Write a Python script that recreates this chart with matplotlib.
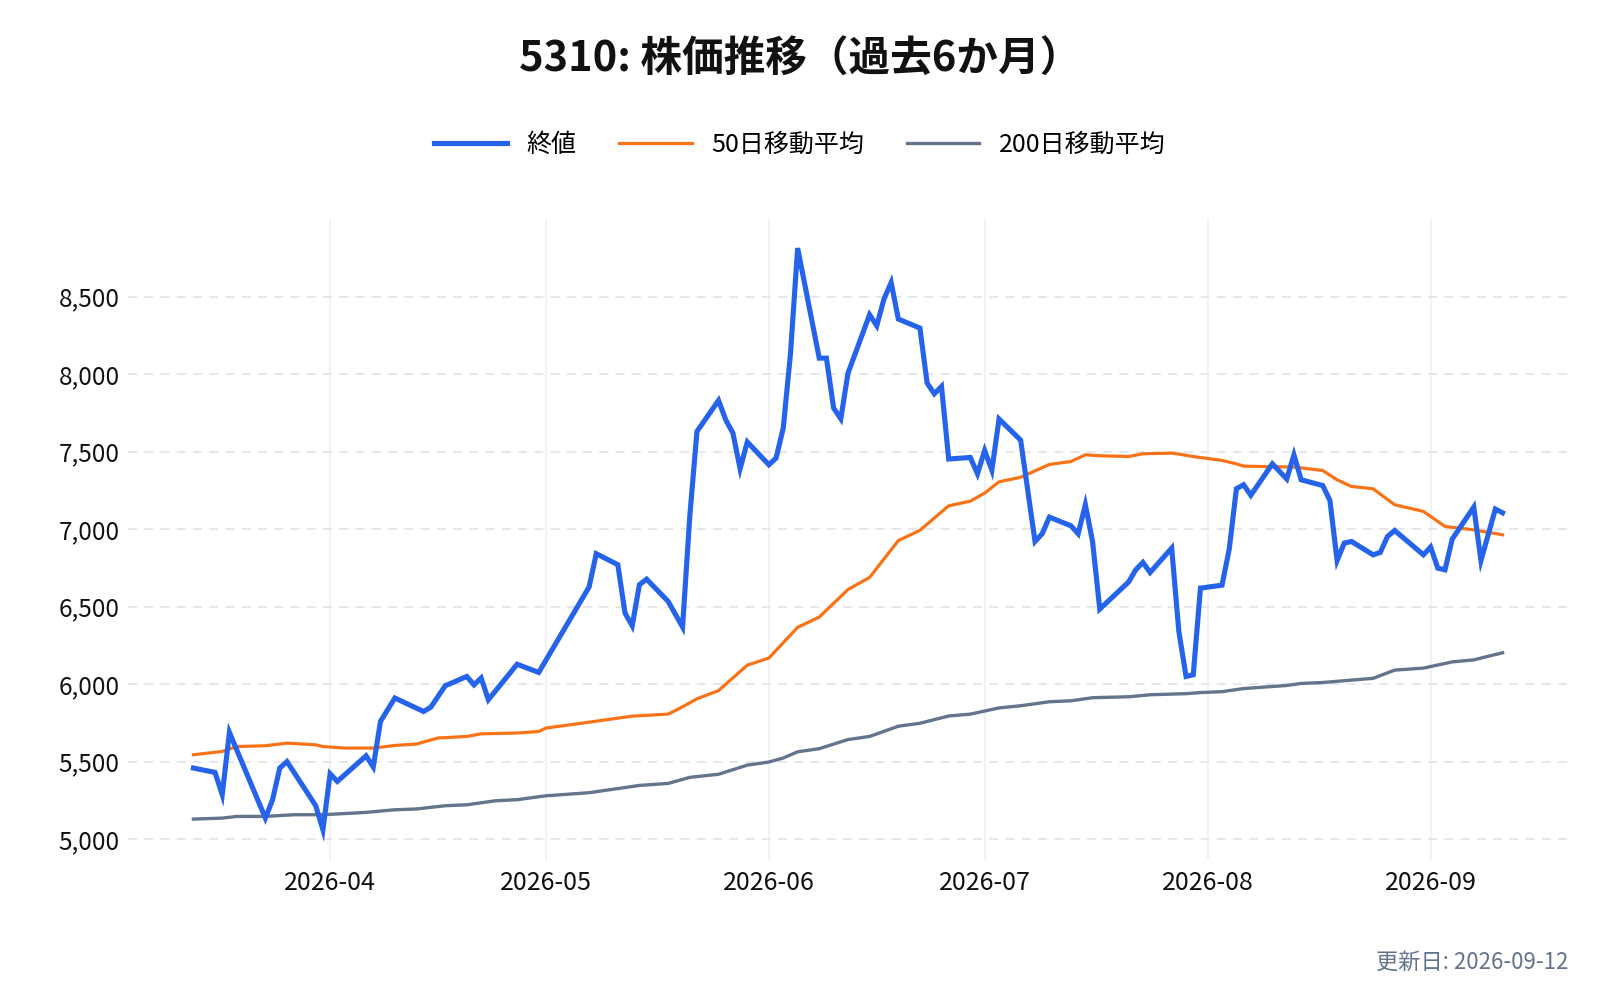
import matplotlib
matplotlib.use("Agg")
import matplotlib.pyplot as plt
import matplotlib.dates as mdates
from matplotlib.ticker import FuncFormatter, FixedLocator
import pandas as pd

plt.rcParams['font.family'] = ['Noto Sans CJK JP', 'DejaVu Sans']

# ---- data ----
close_dates = ["2026-03-13", "2026-03-16", "2026-03-17", "2026-03-18", "2026-03-23", "2026-03-24",
               "2026-03-25", "2026-03-26", "2026-03-30", "2026-03-31", "2026-04-01", "2026-04-02",
               "2026-04-06", "2026-04-07", "2026-04-08", "2026-04-10", "2026-04-14", "2026-04-15",
               "2026-04-17", "2026-04-20", "2026-04-21", "2026-04-22", "2026-04-23", "2026-04-27",
               "2026-04-30", "2026-05-07", "2026-05-08", "2026-05-11", "2026-05-12", "2026-05-13",
               "2026-05-14", "2026-05-15", "2026-05-18", "2026-05-20", "2026-05-21", "2026-05-22",
               "2026-05-25", "2026-05-26", "2026-05-27", "2026-05-28", "2026-05-29", "2026-06-01",
               "2026-06-02", "2026-06-03", "2026-06-04", "2026-06-05", "2026-06-08", "2026-06-09",
               "2026-06-10", "2026-06-11", "2026-06-12", "2026-06-15", "2026-06-16", "2026-06-17",
               "2026-06-18", "2026-06-19", "2026-06-22", "2026-06-23", "2026-06-24", "2026-06-25",
               "2026-06-26", "2026-06-29", "2026-06-30", "2026-07-01", "2026-07-02", "2026-07-03",
               "2026-07-06", "2026-07-08", "2026-07-09", "2026-07-10", "2026-07-13", "2026-07-14",
               "2026-07-15", "2026-07-16", "2026-07-17", "2026-07-21", "2026-07-22", "2026-07-23",
               "2026-07-24", "2026-07-27", "2026-07-28", "2026-07-29", "2026-07-30", "2026-07-31",
               "2026-08-03", "2026-08-04", "2026-08-05", "2026-08-06", "2026-08-07", "2026-08-10",
               "2026-08-12", "2026-08-13", "2026-08-14", "2026-08-17", "2026-08-18", "2026-08-19",
               "2026-08-20", "2026-08-21", "2026-08-24", "2026-08-25", "2026-08-26", "2026-08-27",
               "2026-08-31", "2026-09-01", "2026-09-02", "2026-09-03", "2026-09-04", "2026-09-07",
               "2026-09-08", "2026-09-10", "2026-09-11"]
close_values = [5458, 5430, 5286, 5688, 5135, 5254,
                5458, 5500, 5215, 5060, 5421, 5372,
                5537, 5465, 5759, 5910, 5823, 5851,
                5989, 6049, 5995, 6039, 5899, 6128,
                6075, 6626, 6841, 6770, 6458, 6376,
                6641, 6677, 6533, 6368, 7080, 7630,
                7830, 7705, 7619, 7390, 7562, 7415,
                7458, 7652, 8130, 8813, 8103, 8103,
                7781, 7712, 8006, 8383, 8312, 8484,
                8591, 8355, 8297, 7942, 7873, 7920,
                7452, 7462, 7357, 7507, 7380, 7710,
                7574, 6920, 6970, 7077, 7021, 6970,
                7157, 6920, 6484, 6658, 6737, 6785,
                6720, 6877, 6339, 6049, 6060, 6619,
                6638, 6870, 7260, 7286, 7218, 7421,
                7323, 7479, 7318, 7281, 7185, 6797,
                6910, 6920, 6834, 6849, 6952, 6991,
                6834, 6884, 6748, 6737, 6935, 7142,
                6797, 7129, 7105]

ma50_dates = ["2026-03-13", "2026-03-17", "2026-03-19", "2026-03-23", "2026-03-26", "2026-03-30",
              "2026-03-31", "2026-04-03", "2026-04-07", "2026-04-10", "2026-04-13", "2026-04-16",
              "2026-04-20", "2026-04-22", "2026-04-27", "2026-04-30", "2026-05-01", "2026-05-07",
              "2026-05-13", "2026-05-18", "2026-05-20", "2026-05-22", "2026-05-25", "2026-05-29",
              "2026-06-01", "2026-06-03", "2026-06-05", "2026-06-08", "2026-06-12", "2026-06-15",
              "2026-06-19", "2026-06-22", "2026-06-26", "2026-06-29", "2026-07-01", "2026-07-03",
              "2026-07-06", "2026-07-10", "2026-07-13", "2026-07-15", "2026-07-17", "2026-07-21",
              "2026-07-23", "2026-07-27", "2026-07-28", "2026-07-30", "2026-08-03", "2026-08-05",
              "2026-08-06", "2026-08-13", "2026-08-17", "2026-08-19", "2026-08-21", "2026-08-24",
              "2026-08-27", "2026-08-31", "2026-09-03", "2026-09-07", "2026-09-11"]
ma50_values = [5544, 5565, 5597, 5602, 5619, 5608,
               5597, 5587, 5587, 5604, 5613, 5652,
               5662, 5679, 5684, 5694, 5716, 5754,
               5793, 5806, 5853, 5905, 5958, 6122,
               6168, 6267, 6366, 6432, 6610, 6688,
               6926, 6992, 7150, 7180, 7232, 7305,
               7334, 7417, 7436, 7479, 7473, 7468,
               7486, 7490, 7484, 7468, 7443, 7421,
               7406, 7400, 7378, 7318, 7275, 7260,
               7157, 7114, 7017, 6995, 6963]

ma200_dates = ["2026-03-13", "2026-03-17", "2026-03-19", "2026-03-23", "2026-03-27", "2026-03-31",
               "2026-04-06", "2026-04-10", "2026-04-13", "2026-04-17", "2026-04-20", "2026-04-24",
               "2026-04-27", "2026-05-01", "2026-05-07", "2026-05-14", "2026-05-18", "2026-05-21",
               "2026-05-25", "2026-05-29", "2026-06-01", "2026-06-03", "2026-06-05", "2026-06-08",
               "2026-06-12", "2026-06-15", "2026-06-19", "2026-06-22", "2026-06-26", "2026-06-29",
               "2026-07-03", "2026-07-06", "2026-07-10", "2026-07-13", "2026-07-16", "2026-07-21",
               "2026-07-24", "2026-07-29", "2026-07-31", "2026-08-03", "2026-08-06", "2026-08-12",
               "2026-08-14", "2026-08-17", "2026-08-24", "2026-08-27", "2026-08-31", "2026-09-04",
               "2026-09-07", "2026-09-11"]
ma200_values = [5129, 5135, 5146, 5146, 5157, 5157,
                5172, 5189, 5194, 5215, 5221, 5247,
                5254, 5279, 5299, 5346, 5359, 5398,
                5418, 5477, 5497, 5523, 5563, 5583,
                5642, 5662, 5728, 5747, 5794, 5806,
                5846, 5860, 5886, 5892, 5912, 5918,
                5931, 5938, 5945, 5951, 5971, 5991,
                6004, 6010, 6037, 6090, 6103, 6143,
                6156, 6202]

series_labels = ["終値", "50日移動平均", "200日移動平均"]
title_text = "5310: 株価推移（過去6か月）"
footer_text = "更新日: 2026-09-12"
y_ticks = [5000, 5500, 6000, 6500, 7000, 7500, 8000, 8500]
x_ticks = ["2026-04-01", "2026-05-01", "2026-06-01", "2026-07-01", "2026-08-01", "2026-09-01"]

# ---- plot ----
fig = plt.figure(figsize=(16, 10), dpi=100)
ax = fig.add_axes([0.08, 0.14, 0.90, 0.641])

cd = pd.to_datetime(close_dates)
ax.plot(pd.to_datetime(ma200_dates), ma200_values, color="#64748b", lw=2.4, label=series_labels[2], zorder=2)
ax.plot(pd.to_datetime(ma50_dates), ma50_values, color="#f97316", lw=2.3, label=series_labels[1], zorder=3)
ax.plot(cd, close_values, color="#2563eb", lw=3.7, label=series_labels[0], zorder=4,
        solid_joinstyle="miter")

# limits with 5% padding
span = cd.max() - cd.min()
ax.set_xlim(cd.min() - span * 0.05, cd.max() + span * 0.05)
vmin, vmax = min(close_values), max(close_values)
rng = vmax - vmin
ax.set_ylim(vmin - rng * 0.052, vmax + rng * 0.05)

ax.xaxis.set_major_locator(FixedLocator(mdates.date2num(pd.to_datetime(x_ticks))))
ax.xaxis.set_major_formatter(mdates.DateFormatter("%Y-%m"))
ax.yaxis.set_major_locator(FixedLocator(y_ticks))
ax.yaxis.set_major_formatter(FuncFormatter(lambda v, p: f"{int(v):,}"))

for s in ax.spines.values():
    s.set_visible(False)
ax.tick_params(axis="both", length=0, colors="#111111")
ax.tick_params(axis="x", pad=7, labelsize=18)
ax.tick_params(axis="y", pad=6, labelsize=17.5)

ax.grid(axis="x", color="#eef1f5", lw=1.2, linestyle="-", zorder=0)
ax.grid(axis="y", color="#e3e5ea", lw=1.3, linestyle=(0, (5, 4)), zorder=0)
ax.set_axisbelow(True)

fig.text(0.5, 0.94, title_text, ha="center", va="center", fontsize=30, fontweight="bold", color="#111111")

handles, labels = ax.get_legend_handles_labels()
order = [2, 1, 0]
fig.legend([handles[i] for i in order], [labels[i] for i in order],
           loc="center", bbox_to_anchor=(0.5, 0.855), ncol=3, frameon=False,
           fontsize=18, handlelength=2.9, handletextpad=0.8, columnspacing=1.7)

fig.text(0.98, 0.038, footer_text, ha="right", va="center", fontsize=16, color="#64748b")

fig.savefig("out.png", dpi=100, facecolor="white")
